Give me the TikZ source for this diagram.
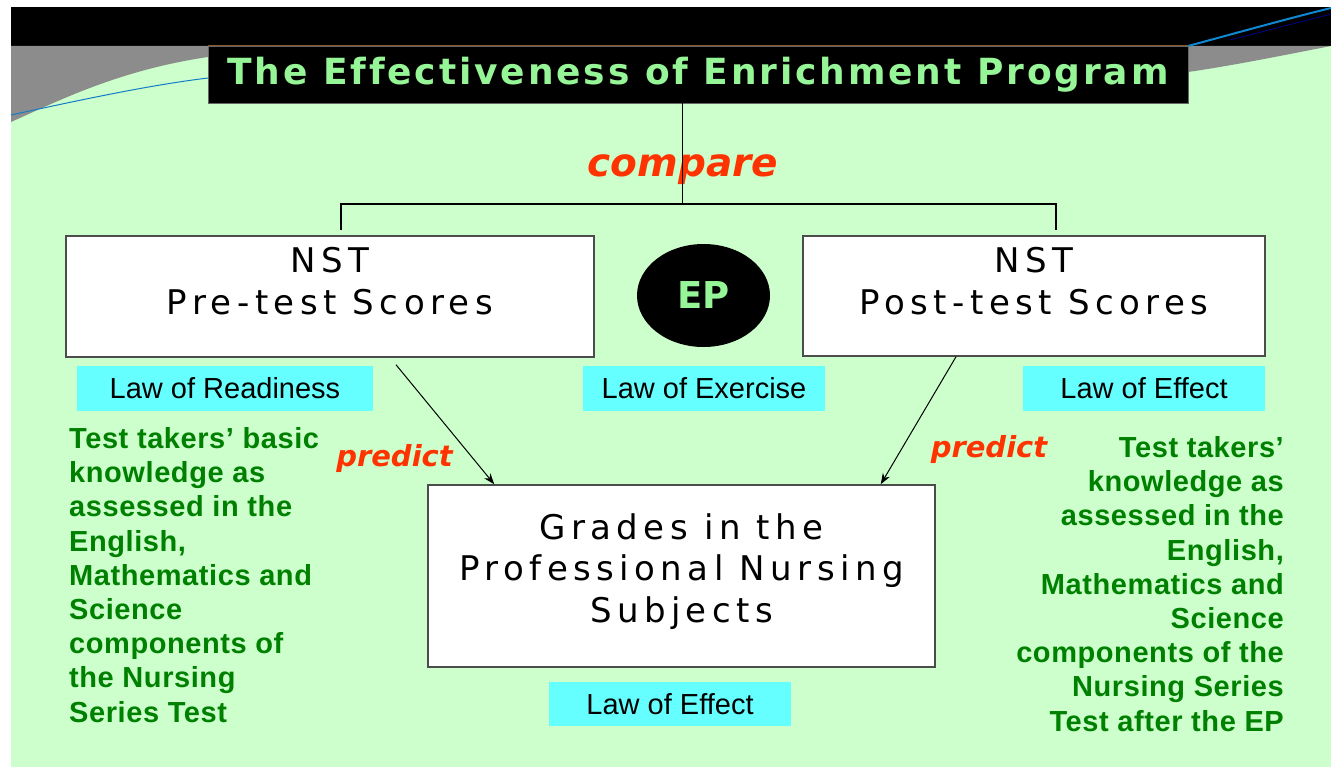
\documentclass[tikz,border=0pt]{standalone}
\usepackage{fontspec}
\setmainfont{Liberation Sans}
\newfontfamily\boxfont[LetterSpace=16]{DejaVu Sans}
\newfontfamily\headfont[LetterSpace=8,Ligatures=NoCommon]{DejaVu Sans Bold}
\newfontfamily\epfont{DejaVu Sans Bold}
\newfontfamily\verbfont{DejaVu Sans Bold Oblique}
\newfontfamily\notefont[LetterSpace=2]{Liberation Sans Bold}
\usetikzlibrary{arrows.meta, shapes.geometric}

\definecolor{slidegreen}{RGB}{204,255,204}
\definecolor{lawcyan}{RGB}{102,255,255}
\definecolor{headgreen}{RGB}{150,245,150}
\definecolor{verbred}{RGB}{255,51,0}
\definecolor{notegreen}{RGB}{0,128,0}

\tikzset{
  scorebox/.style={draw=black!70, line width=1.5pt, fill=white, inner sep=0},
  scoretext/.style={inner sep=0, align=center, font=\boxfont\fontsize{34}{41.5}\selectfont},
  lawlabel/.style={fill=lawcyan, minimum width=242, minimum height=45, inner sep=0,
    font=\fontsize{29}{34}\selectfont},
  verb/.style={text=verbred, inner sep=0, font=\verbfont\fontsize{29}{34}\selectfont},
  note/.style={text=notegreen, inner sep=0, font=\notefont\fontsize{29}{34.2}\selectfont},
  predarrow/.style={-{Stealth[length=11pt,width=8pt]}, line width=1pt},
}

\begin{document}
\begin{tikzpicture}[x=1pt,y=-1pt]
      \useasboundingbox (0,0) rectangle (1335,768);
      \fill[slidegreen] (11,7) rectangle (1331,767);
      \fill[black] (11,7) rectangle (1331,46);
      \fill[black!45] (11,46) -- (208,46) -- (208,57) .. controls (120,70) and (60,100) .. (11,122) -- cycle;
      \draw[cyan!60!blue, line width=1pt] (11,115) .. controls (80,100) and (150,85) .. (208,78);
      \fill[black!45] (1188,46) -- (1331,46) .. controls (1280,56) and (1230,66) .. (1188,72) -- cycle;
      \draw[cyan!70!blue, line width=2pt] (1188,46) .. controls (1240,32) and (1290,18) .. (1331,8);
      \draw[blue!70!black, line width=0.6pt] (1230,40) -- (1331,14);

      \node[fill=black, draw=black!60, minimum width=980, minimum height=57, inner sep=0,
        text=headgreen, font=\headfont\fontsize{36}{40}\selectfont] (title) at (698,74.5)
        {The Effectiveness of Enrichment Program};
      \draw[brown!70!black, line width=0.6pt] (title.north west) -- (title.north east);

      \node[scorebox, minimum width=528, minimum height=121,
        label={[scoretext, anchor=north, yshift=-12]north:{NST\\Pre-test Scores}}] (pre) at (330,296.5) {};
      \node[scorebox, minimum width=462, minimum height=120,
        label={[scoretext, anchor=north, yshift=-12]north:{NST\\Post-test Scores}}] (post) at (1034,296) {};
      \node[scorebox, minimum width=507, minimum height=182,
        label={[scoretext, anchor=north, yshift=-29]north:{Grades in the\\Professional Nursing\\Subjects}}] (grades) at (681.5,576) {};

      \node[ellipse, fill=black, minimum width=133, minimum height=103, inner sep=0,
        text=headgreen, font=\epfont\fontsize{37}{40}\selectfont] (ep) at (703.5,295.5) {EP};

      \node[lawlabel, minimum width=296] (readiness) at (225,388.5) {Law of Readiness};
      \node[lawlabel] (exercise) at (704,388.5) {Law of Exercise};
      \node[lawlabel] (effpost) at (1144,388.5) {Law of Effect};
      \node[lawlabel, minimum height=44] (effgrades) at (670,704) {Law of Effect};

      \node[verb, font=\verbfont\fontsize{39}{44}\selectfont, anchor=base] (compare) at (683,176) {compare};
      \node[verb, anchor=base] (predl) at (394.5,466) {predict};
      \node[verb, anchor=base] (predr) at (989,457) {predict};

      \coordinate (fork) at (682,204);
      \coordinate (cl) at (341,230);
      \coordinate (cr) at (1056,230);
      \draw[line width=0.8pt] (title.south -| fork) -- (fork);
      \draw[line width=2pt] (cl) -- (cl |- fork) -| (cr);

      \coordinate (lstart) at ([shift={(66,7)}]pre.south);
      \coordinate (rstart) at ([shift={(-78,0)}]post.south);
      \draw[predarrow] (lstart) -- ([shift={(67,0)}]grades.north west);
      \draw[predarrow] (rstart) -- ([shift={(-55,0)}]grades.north east);

      \node[note, align=left, anchor=base west] (notel) at (69,722)
        {Test takers’ basic\\knowledge as\\assessed in the\\English,\\Mathematics and\\Science\\components of\\the Nursing\\Series Test};
      \node[note, align=right, anchor=base east] (noter) at (1284,731)
        {Test takers’\\knowledge as\\assessed in the\\English,\\Mathematics and\\Science\\components of the\\Nursing Series\\Test after the EP};
\end{tikzpicture}
\end{document}
